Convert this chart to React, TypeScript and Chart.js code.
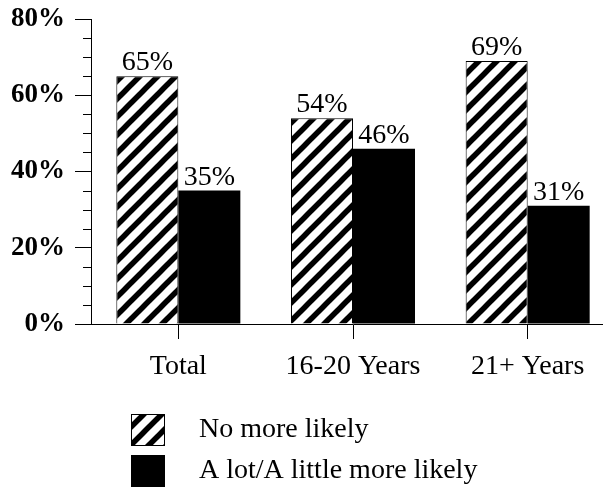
import React, { useEffect, useRef } from "react";
import { Chart, registerables } from "chart.js";

Chart.register(...registerables);

const categories = ["Total", "16-20 Years", "21+ Years"];
const noMoreLikely = [65, 54, 69];
const moreLikely = [35, 46, 31];
const seriesLabels = ["No more likely", "A lot/A little more likely"];
const yTicks = [0, 20, 40, 60, 80];
const minorTickValues = [5, 10, 15, 25, 30, 35, 45, 50, 55, 65, 70, 75];

const SERIF = "'Liberation Serif', 'Times New Roman', serif";

function makeHatch(): CanvasPattern | string {
  const s = 18;
  const c = document.createElement("canvas");
  c.width = s;
  c.height = s;
  const ctx = c.getContext("2d");
  if (!ctx) return "#fff";
  ctx.fillStyle = "#fff";
  ctx.fillRect(0, 0, s, s);
  ctx.strokeStyle = "#000";
  ctx.lineWidth = 5.5;
  ctx.lineCap = "square";
  for (let k = -1; k <= 1; k++) {
    ctx.beginPath();
    ctx.moveTo(k * s - 2, s + 2);
    ctx.lineTo(k * s + s + 2, -2);
    ctx.stroke();
  }
  const p = ctx.createPattern(c, "repeat");
  return p || "#fff";
}

export default function App() {
  const ref = useRef<HTMLCanvasElement>(null);

  useEffect(() => {
    const canvas = ref.current;
    if (!canvas) return;
    const hatch = makeHatch();

    const dataLabels = {
      id: "dataLabels",
      afterDatasetsDraw(chart: any) {
        const ctx = chart.ctx;
        ctx.save();
        ctx.fillStyle = "#000";
        ctx.font = `28px ${SERIF}`;
        ctx.textAlign = "center";
        ctx.textBaseline = "alphabetic";
        chart.data.datasets.forEach((ds: any, di: number) => {
          const meta = chart.getDatasetMeta(di);
          meta.data.forEach((bar: any, i: number) => {
            ctx.fillText(ds.data[i] + "%", bar.x, bar.y - 6);
          });
        });
        ctx.restore();
      },
    };

    const minorTicks = {
      id: "minorTicks",
      afterDraw(chart: any) {
        const y = chart.scales.y;
        const ctx = chart.ctx;
        ctx.save();
        ctx.strokeStyle = "#000";
        ctx.lineWidth = 1;
        const x0 = chart.chartArea.left;
        minorTickValues.forEach((v) => {
          const py = Math.round(y.getPixelForValue(v)) + 0.5;
          ctx.beginPath();
          ctx.moveTo(x0 - 8, py);
          ctx.lineTo(x0, py);
          ctx.stroke();
        });
        ctx.restore();
      },
    };

    const customLegend = {
      id: "customLegend",
      afterDraw(chart: any) {
        const ctx = chart.ctx;
        ctx.save();
        const boxX = 131;
        const boxW = 34;
        const boxH = 32;
        const rows = [414, 455];
        chart.data.datasets.forEach((ds: any, i: number) => {
          const by = rows[i];
          ctx.fillStyle = ds.backgroundColor;
          ctx.fillRect(boxX, by, boxW, boxH);
          ctx.strokeStyle = "#000";
          ctx.lineWidth = 1;
          ctx.strokeRect(boxX + 0.5, by + 0.5, boxW - 1, boxH - 1);
          ctx.fillStyle = "#000";
          ctx.font = `28px ${SERIF}`;
          ctx.textAlign = "left";
          ctx.textBaseline = "middle";
          ctx.fillText(ds.label, 199, by + boxH / 2);
        });
        ctx.restore();
      },
    };

    const chart = new Chart(canvas, {
      type: "bar",
      data: {
        labels: categories,
        datasets: [
          {
            label: seriesLabels[0],
            data: noMoreLikely,
            backgroundColor: hatch as any,
            borderColor: "#000",
            borderWidth: 1,
            categoryPercentage: 0.71,
            barPercentage: 1,
          },
          {
            label: seriesLabels[1],
            data: moreLikely,
            backgroundColor: "#000",
            borderColor: "#000",
            borderWidth: 0,
            categoryPercentage: 0.71,
            barPercentage: 1,
          },
        ],
      },
      options: {
        animation: false,
        responsive: false,
        maintainAspectRatio: false,
        devicePixelRatio: 1,
        layout: { padding: { top: 19, bottom: 105, left: 0, right: 0 } },
        plugins: {
          legend: { display: false },
          tooltip: { enabled: false },
        },
        scales: {
          x: {
            grid: {
              display: true,
              drawOnChartArea: false,
              offset: false,
              tickLength: 15,
              color: "#000",
            },
            border: { display: true, color: "#000", width: 1 },
            ticks: {
              color: "#000",
              font: { family: SERIF, size: 28 },
              padding: 11,
              maxRotation: 0,
            },
            afterFit(scale: any) {
              scale.height = 60;
              scale.paddingLeft = 0;
              scale.paddingRight = 0;
            },
          },
          y: {
            min: 0,
            max: 80,
            afterBuildTicks(scale: any) {
              scale.ticks = yTicks.map((v) => ({ value: v }));
            },
            grid: {
              display: true,
              drawOnChartArea: false,
              tickLength: 16,
              color: "#000",
            },
            border: { display: true, color: "#000", width: 1 },
            ticks: {
              color: "#000",
              font: { family: SERIF, size: 27, weight: "bold", lineHeight: 1 },
              padding: 10,
              callback: (v: any) => v + "%",
            },
            afterFit(scale: any) {
              scale.width = 91;
              scale.paddingTop = 0;
              scale.paddingBottom = 0;
            },
          },
        },
      },
      plugins: [dataLabels, minorTicks, customLegend],
    });
    return () => chart.destroy();
  }, []);

  return (
    <div
      style={{
        position: "fixed",
        left: 0,
        top: 0,
        width: 603,
        height: 489,
        overflow: "hidden",
        background: "#fff",
      }}
    >
      <canvas ref={ref} width={615} height={489} style={{ width: 615, height: 489, display: "block" }} />
    </div>
  );
}
